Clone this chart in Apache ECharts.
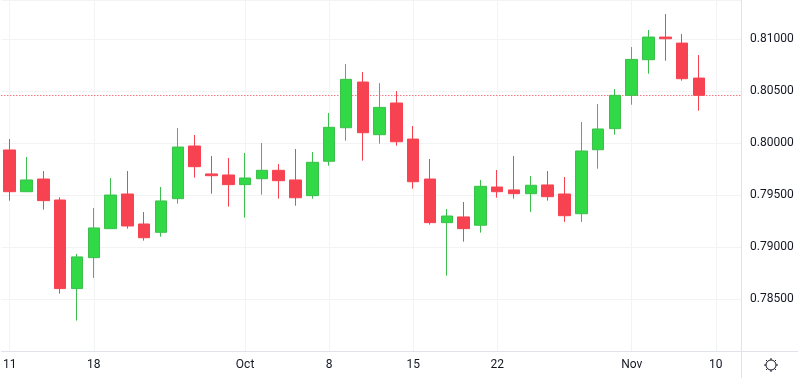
<!DOCTYPE html>
<html>
<head>
<meta charset="utf-8">
<script src="https://cdn.jsdelivr.net/npm/echarts@6/dist/echarts.min.js"></script>
<style>
html,body{margin:0;padding:0;background:#fff;}
#c{width:798px;height:378px;}
</style>
</head>
<body>
<div id="c"></div>
<script>
// Trading dates (plus two future slots on the right)
const dates = [
  '2018-09-11','2018-09-12','2018-09-13','2018-09-14','2018-09-17',
  '2018-09-18','2018-09-19','2018-09-20','2018-09-21','2018-09-24',
  '2018-09-25','2018-09-26','2018-09-27','2018-09-28','2018-10-01',
  '2018-10-02','2018-10-03','2018-10-04','2018-10-05','2018-10-08',
  '2018-10-09','2018-10-10','2018-10-11','2018-10-12','2018-10-15',
  '2018-10-16','2018-10-17','2018-10-18','2018-10-19','2018-10-22',
  '2018-10-23','2018-10-24','2018-10-25','2018-10-26','2018-10-29',
  '2018-10-30','2018-10-31','2018-11-01','2018-11-02','2018-11-05',
  '2018-11-06','2018-11-07','2018-11-10','2018-11-12'
];
const open  = [0.79936,0.79534,0.79656,0.79454,0.78601,0.78899,0.79178,0.79512,0.79223,0.79143,
               0.79467,0.79974,0.79705,0.79695,0.79602,0.79659,0.79740,0.79647,0.79496,0.79827,
               0.80150,0.80590,0.80083,0.80388,0.80041,0.79656,0.79236,0.79291,0.79211,0.79579,
               0.79551,0.79515,0.79599,0.79512,0.79322,0.79938,0.80141,0.80462,0.80805,0.81023,
               0.80965,0.80628];
const close = [0.79534,0.79647,0.79448,0.78601,0.78906,0.79185,0.79502,0.79204,0.79091,0.79445,
               0.79964,0.79775,0.79688,0.79602,0.79666,0.79740,0.79640,0.79476,0.79817,0.80154,
               0.80616,0.80102,0.80346,0.80015,0.79630,0.79236,0.79300,0.79178,0.79586,0.79534,
               0.79515,0.79596,0.79486,0.79303,0.79926,0.80138,0.80462,0.80808,0.81023,0.81007,
               0.80622,0.80462];
const high  = [0.80041,0.79868,0.79733,0.79480,0.78935,0.79377,0.79666,0.79733,0.79339,0.79579,
               0.80147,0.80080,0.79878,0.79859,0.79907,0.80003,0.79801,0.79945,0.79916,0.80292,
               0.80763,0.80686,0.80580,0.80503,0.80167,0.79849,0.79368,0.79435,0.79647,0.79743,
               0.79878,0.79685,0.79733,0.79676,0.80205,0.80378,0.80523,0.80927,0.81091,0.81244,
               0.81052,0.80850];
const low   = [0.79448,0.79530,0.79361,0.78552,0.78293,0.78704,0.79175,0.79178,0.79063,0.79101,
               0.79419,0.79669,0.79515,0.79390,0.79284,0.79505,0.79467,0.79399,0.79467,0.79784,
               0.80025,0.79833,0.79996,0.79977,0.79563,0.79217,0.78726,0.79053,0.79140,0.79476,
               0.79467,0.79339,0.79448,0.79243,0.79243,0.79756,0.80083,0.80372,0.80670,0.80795,
               0.80603,0.80314];
const tickDates  = ['2018-09-11','2018-09-18','2018-10-01','2018-10-08','2018-10-15','2018-10-22','2018-11-01','2018-11-10'];
const tickLabels = ['11','18','Oct','8','15','22','Nov','10'];
const lastPrice = close[close.length - 1];

const tickMap = {};
tickDates.forEach((d, i) => { tickMap[d] = tickLabels[i]; });
const ohlc = open.map((o, i) => [o, close[i], low[i], high[i]]);

const UP = '#32d946', UP_BORDER = '#3cbf4c', DOWN = '#f74351';
const TXT = '#131722', LINE = '#e0e3eb', GRID = '#f2f3f5';
const FONT = 'Roboto, "Noto Sans", sans-serif';

const chart = echarts.init(document.getElementById('c'), null, {renderer: 'canvas'});
const isTick = (idx, val) => Object.prototype.hasOwnProperty.call(tickMap, val);

const gear = [];
for (let k = 0; k < 8; k++) {
  const a = k * Math.PI / 4;
  gear.push({type: 'line', shape: {x1: Math.cos(a) * 5, y1: Math.sin(a) * 5, x2: Math.cos(a) * 7, y2: Math.sin(a) * 7},
    style: {stroke: TXT, lineWidth: 1}});
}
gear.push({type: 'circle', shape: {cx: 0, cy: 0, r: 5}, style: {fill: 'none', stroke: TXT, lineWidth: 1}});

chart.setOption({
  animation: false,
  backgroundColor: '#ffffff',
  grid: {left: 1, right: 57, top: 0, bottom: 27, containLabel: false},
  xAxis: {
    type: 'category',
    data: dates,
    boundaryGap: true,
    axisLine: {show: true, lineStyle: {color: LINE, width: 1}},
    axisTick: {show: false, alignWithLabel: true, interval: isTick},
    splitLine: {show: true, interval: isTick, alignWithLabel: true, lineStyle: {color: GRID, width: 1}},
    axisLabel: {
      interval: isTick,
      color: TXT, fontFamily: FONT, fontSize: 12, margin: 8,
      formatter: v => tickMap[v] || ''
    }
  },
  yAxis: {
    type: 'value',
    position: 'right',
    min: 0.78, max: 0.8138, interval: 0.005,
    axisLine: {show: true, lineStyle: {color: LINE, width: 1}},
    axisTick: {show: false},
    splitLine: {show: true, lineStyle: {color: GRID, width: 1}},
    axisLabel: {
      showMinLabel: false, showMaxLabel: false,
      color: TXT, fontFamily: FONT, fontSize: 12, margin: 9,
      formatter: v => v.toFixed(5)
    }
  },
  series: [{
    type: 'candlestick',
    data: ohlc,
    barWidth: 12,
    itemStyle: {
      color: UP, color0: DOWN,
      borderColor: UP_BORDER, borderColor0: DOWN,
      borderWidth: 1
    },
    markLine: {
      silent: true,
      symbol: 'none',
      precision: 5,
      z: 1,
      label: {show: false},
      emphasis: {disabled: true},
      lineStyle: {color: '#f23645', type: [1, 2], width: 1, opacity: 1},
      data: [{yAxis: lastPrice, lineStyle: {color: '#f23645', type: [1, 2], width: 1}}]
    }
  }],
  graphic: [
    {type: 'line', shape: {x1: 741, y1: 351.5, x2: 798, y2: 351.5}, style: {stroke: LINE, lineWidth: 1}, silent: true},
    {type: 'line', shape: {x1: 741.5, y1: 351, x2: 741.5, y2: 378}, style: {stroke: LINE, lineWidth: 1}, silent: true},
    {type: 'group', x: 771, y: 365, children: gear, silent: true}
  ]
});
</script>
</body>
</html>
